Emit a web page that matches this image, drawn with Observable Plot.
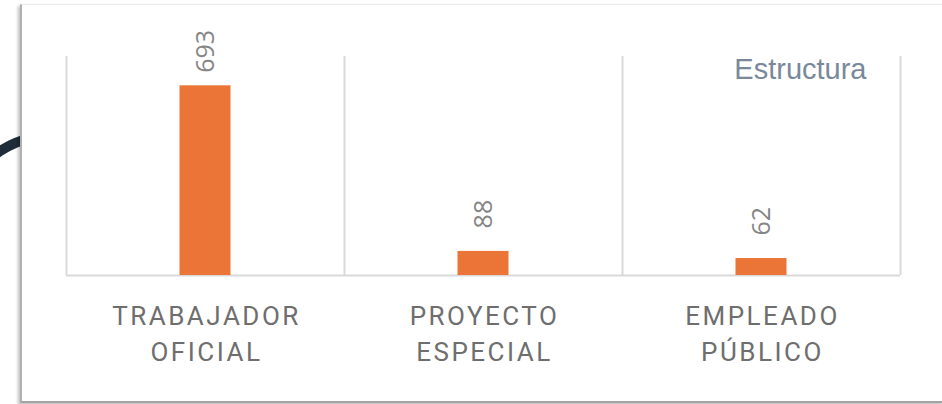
<!DOCTYPE html>
<html>
<head>
<meta charset="utf-8">
<script src="https://cdn.jsdelivr.net/npm/d3@7"></script>
<script src="https://cdn.jsdelivr.net/npm/@observablehq/plot@0.6"></script>
<style>
  html, body { margin: 0; padding: 0; background: #ffffff; }
  #wrap { position: relative; width: 942px; height: 404px; overflow: hidden; background: #ffffff; }
  #arc { position: absolute; left: -45px; top: 131px; width: 170px; height: 170px;
         border: 10px solid transparent; border-top-color: #1f2c39; border-radius: 50%;
         transform: rotate(-45deg); }
  #card { position: absolute; left: 20px; top: 4px; width: 921px; height: 396px; background: #ffffff;
          border-left: 2px solid #b0b0b0; border-bottom: 2px solid #a3a3a3;
          border-top: 1px solid #ebebeb; border-right: 1px solid #ebebeb;
          box-shadow: -2px 2px 3px rgba(0,0,0,0.25); }
  #chart { position: absolute; left: 0; top: 0; }
  g[font-size="26"] { letter-spacing: 2.5px; }
</style>
</head>
<body>
<div id="wrap">
  <div id="arc"></div>
  <div id="card"></div>
  <div id="chart"></div>
</div>
<script>
const categories = ["Trabajador oficial", "Proyecto especial", "Empleado público"];
const categoryLabels = ["TRABAJADOR\nOFICIAL", "PROYECTO\nESPECIAL", "EMPLEADO\nPÚBLICO"];
const values = [693, 88, 62];
const chartLabel = "Estructura";

const data = categories.map((c, i) => ({category: c, label: categoryLabels[i], value: values[i]}));

const W = 942, H = 404, mL = 66, mR = 42, mT = 56, mB = 129;
const band = (W - mL - mR) / categories.length;
const barW = 51;

const chart = Plot.plot({
  width: W,
  height: H,
  marginLeft: mL,
  marginRight: mR,
  marginTop: mT,
  marginBottom: mB,
  style: {background: "transparent", overflow: "visible"},
  x: {type: "band", domain: categories, padding: 0, axis: null},
  y: {domain: [0, 800], axis: null},
  marks: [
    Plot.ruleX(categories, {x: d => d, y1: 0, y2: 800, dx: -band / 2, stroke: "#d9d9d9", strokeWidth: 2}),
    Plot.ruleX([categories[categories.length - 1]], {x: d => d, y1: 0, y2: 800, dx: band / 2, stroke: "#d9d9d9", strokeWidth: 2}),
    Plot.ruleY([0], {stroke: "#d9d9d9", strokeWidth: 2}),
    Plot.barY(data, {x: "category", y: "value", fill: "#ea7536",
      insetLeft: (band - barW) / 2, insetRight: (band - barW) / 2}),
    Plot.text(data.filter(d => d.value > 500), {x: "category", y: "value", text: d => String(d.value),
      rotate: -90, textAnchor: "start", lineAnchor: "middle", dy: -13,
      fill: "#858585", fontSize: 25, fontFamily: "'Open Sans', sans-serif"}),
    Plot.text(data.filter(d => d.value <= 500), {x: "category", y: "value", text: d => String(d.value),
      rotate: -90, textAnchor: "start", lineAnchor: "middle", dy: -23,
      fill: "#858585", fontSize: 25, fontFamily: "'Open Sans', sans-serif"}),
    Plot.text(data, {x: "category", text: "label", frameAnchor: "bottom", lineAnchor: "top",
      dy: 24, lineHeight: 36 / 26, dx: 1,
      fill: "#6e6e6e", fontSize: 26, fontFamily: "Roboto, sans-serif"}),
    Plot.text([chartLabel], {frameAnchor: "top-right", text: d => d, textAnchor: "end", lineAnchor: "middle",
      dx: -34, dy: 13, fill: "#7a889b", fontSize: 29, fontFamily: "'Liberation Sans', Arial, sans-serif"})
  ]
});
document.getElementById("chart").appendChild(chart);
</script>
</body>
</html>
